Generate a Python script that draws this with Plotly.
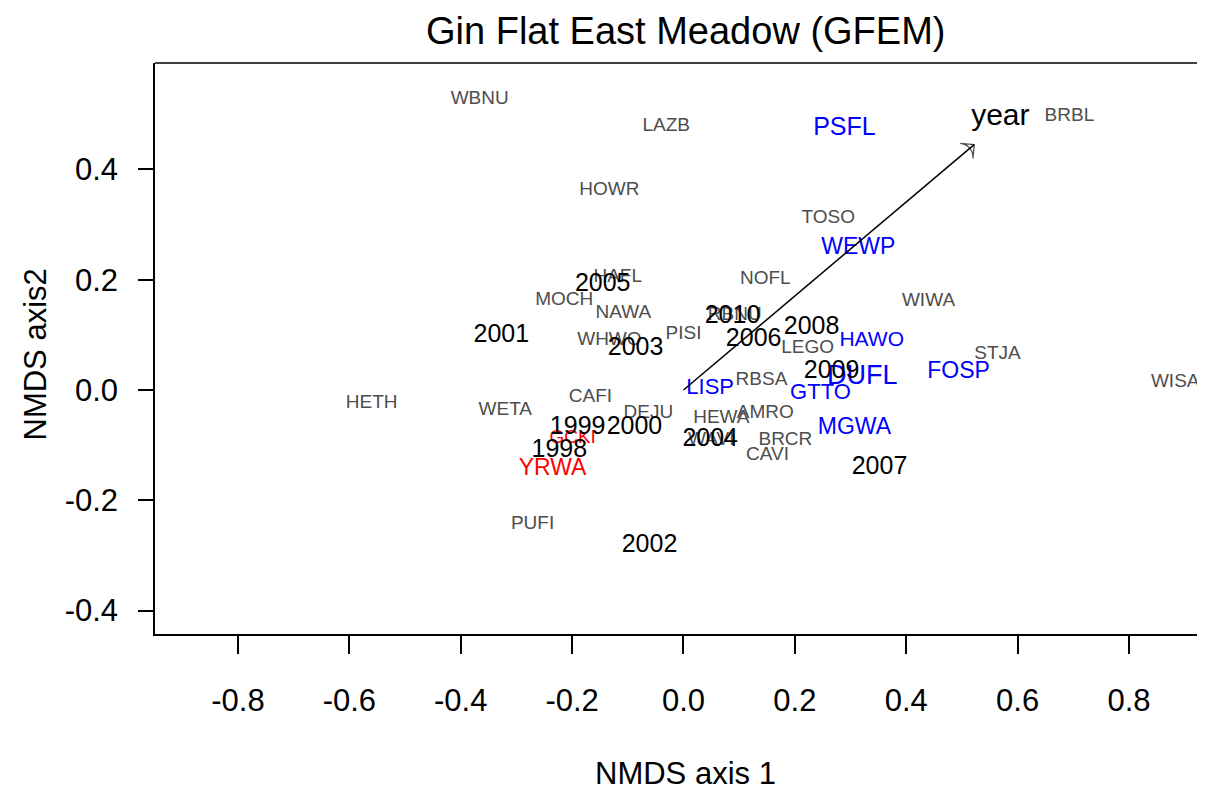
import plotly.graph_objects as go

# ---- data ----
gray_labels = ["WBNU", "LAZB", "HOWR", "TOSO", "NOFL", "HAFL", "MOCH", "NAWA", "WIWA", "PISI",
               "RBNU", "WHWO", "LEGO", "STJA", "WISA", "RBSA", "HETH", "CAFI", "WETA", "DEJU",
               "HEWA", "AMRO", "WAVI", "BRCR", "CAVI", "PUFI", "BRBL"]
gray_x = [-0.366, -0.031, -0.133, 0.260, 0.147, -0.118, -0.214, -0.108, 0.440, 0.000,
          0.092, -0.133, 0.223, 0.564, 0.883, 0.140, -0.560, -0.167, -0.320, -0.063,
          0.068, 0.147, 0.050, 0.183, 0.151, -0.271, 0.693]
gray_y = [0.528, 0.479, 0.363, 0.311, 0.201, 0.204, 0.163, 0.139, 0.161, 0.101,
          0.136, 0.090, 0.076, 0.065, 0.014, 0.018, -0.024, -0.014, -0.036, -0.043,
          -0.051, -0.043, -0.092, -0.092, -0.119, -0.244, 0.497]

blue_labels = ["PSFL", "WEWP", "HAWO", "DUFL", "FOSP", "LISP", "GTTO", "MGWA"]
blue_x = [0.289, 0.314, 0.338, 0.321, 0.494, 0.048, 0.246, 0.307]
blue_y = [0.474, 0.257, 0.090, 0.024, 0.033, 0.002, -0.007, -0.069]
blue_size = [25, 23, 21, 27, 23, 22, 22, 23]

red_labels = ["GCKI", "YRWA"]
red_x = [-0.199, -0.235]
red_y = [-0.087, -0.143]
red_size = [19, 23]

year_labels = ["2005", "2001", "2010", "2003", "2006", "2008", "2009", "1999", "2000",
               "2004", "1998", "2007", "2002"]
year_x = [-0.145, -0.327, 0.088, -0.086, 0.126, 0.230, 0.266, -0.190, -0.088,
          0.048, -0.223, 0.352, -0.061]
year_y = [0.190, 0.098, 0.132, 0.074, 0.092, 0.112, 0.033, -0.069, -0.069,
          -0.090, -0.110, -0.141, -0.282]

vector_name = "year"
vector_x = [0.0, 0.522]
vector_y = [0.0, 0.445]
vector_label_pos = (0.569, 0.495)

tick_vals_x = [-0.8, -0.6, -0.4, -0.2, 0.0, 0.2, 0.4, 0.6, 0.8]
tick_text_x = ["-0.8", "-0.6", "-0.4", "-0.2", "0.0", "0.2", "0.4", "0.6", "0.8"]
tick_vals_y = [-0.4, -0.2, 0.0, 0.2, 0.4]
tick_text_y = ["-0.4", "-0.2", "0.0", "0.2", "0.4"]

FONT = "Liberation Sans, Arial, Helvetica, sans-serif"

fig = go.Figure()

fig.add_trace(go.Scatter(x=gray_x, y=gray_y, text=gray_labels, mode="text",
                         textposition="middle center", cliponaxis=False,
                         textfont=dict(family=FONT, size=19, color="#4D4D4D"),
                         hoverinfo="text", showlegend=False))
fig.add_trace(go.Scatter(x=red_x, y=red_y, text=red_labels, mode="text",
                         textposition="middle center",
                         textfont=dict(family=FONT, size=red_size, color="#FF0000"),
                         showlegend=False))
fig.add_trace(go.Scatter(x=blue_x, y=blue_y, text=blue_labels, mode="text",
                         textposition="middle center",
                         textfont=dict(family=FONT, size=blue_size, color="#0000FF"),
                         showlegend=False))
fig.add_trace(go.Scatter(x=year_x, y=year_y, text=year_labels, mode="text",
                         textposition="middle center",
                         textfont=dict(family=FONT, size=25, color="#000000"),
                         showlegend=False))

# environmental vector arrow
fig.add_trace(go.Scatter(x=vector_x, y=vector_y, mode="lines+markers",
                         line=dict(color="black", width=1.5),
                         marker=dict(symbol="arrow-wide-open", size=[0, 14], angleref="previous",
                                     color="black", line=dict(color="black", width=1.3)),
                         showlegend=False, hoverinfo="skip"))
fig.add_trace(go.Scatter(x=[vector_label_pos[0]], y=[vector_label_pos[1]], text=[vector_name],
                         mode="text", textposition="middle center",
                         textfont=dict(family=FONT, size=30, color="black"),
                         showlegend=False))

axis_common = dict(showgrid=False, zeroline=False, showline=True, linecolor="black",
                   linewidth=1.5, ticks="outside", tickcolor="black", tickwidth=1.5,
                   tickfont=dict(family=FONT, size=31, color="black"), mirror=False)

# page body adds an 8px offset; plot spans 155..1205 px horizontally, 63..634 vertically
fig.update_xaxes(range=[-0.949, 0.9365], tickvals=tick_vals_x, ticktext=tick_text_x,
                 ticklen=18, ticklabelstandoff=20, **axis_common)
fig.update_yaxes(range=[-0.4425, 0.593], tickvals=tick_vals_y, ticktext=tick_text_y,
                 ticklen=15, ticklabelstandoff=14, **axis_common)

fig.add_shape(type="line", xref="paper", yref="paper", x0=0, x1=1, y0=1, y1=1,
              line=dict(color="black", width=1.5))

fig.add_annotation(text="Gin Flat East Meadow (GFEM)", xref="paper", yref="paper",
                   x=0.505, y=1, yshift=32, showarrow=False, xanchor="center", yanchor="middle",
                   font=dict(family=FONT, size=38, color="black"))
fig.add_annotation(text="NMDS axis 1", xref="paper", yref="paper",
                   x=0.505, y=0, yshift=-139, showarrow=False, xanchor="center", yanchor="middle",
                   font=dict(family=FONT, size=31, color="black"))
fig.add_annotation(text="NMDS axis2", xref="paper", yref="paper",
                   x=0, y=0.4895, xshift=-120, showarrow=False, xanchor="center", yanchor="middle",
                   textangle=-90, font=dict(family=FONT, size=31, color="black"))

fig.update_layout(width=1197, height=782, margin=dict(l=147, r=0, t=55, b=156),
                  plot_bgcolor="white", paper_bgcolor="white")

fig.write_html("out.html")
